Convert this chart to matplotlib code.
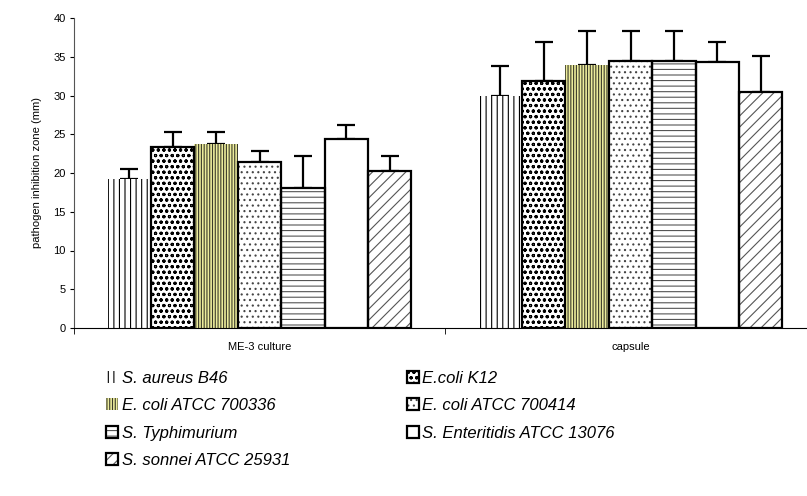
import numpy as np
import matplotlib.pyplot as plt
from matplotlib.legend_handler import HandlerTuple

plt.rcParams['font.family'] = ['Liberation Sans', 'DejaVu Sans']
plt.rcParams['hatch.linewidth'] = 0.8

groups = ['ME-3 culture', 'capsule']
strains = ['S. aureus B46', 'E.coli K12', 'E. coli ATCC 700336', 'E. coli ATCC 700414',
           'S. Typhimurium', 'S. Enteritidis ATCC 13076', 'S. sonnei ATCC 25931']

# inhibition zone means and SD (mm), one entry per strain
me3_mean = [19.2, 23.4, 23.7, 21.4, 18.1, 24.4, 20.3]
me3_sd = [1.3, 1.85, 1.55, 1.45, 4.1, 1.8, 1.9]
capsule_mean = [29.9, 31.9, 33.9, 34.4, 34.4, 34.3, 30.5]
capsule_sd = [3.95, 4.95, 4.4, 3.9, 3.9, 2.55, 4.6]

# face, hatch colour, hatch, outline width (outline is black)
styles = [
    ('white', 'black', '|||', 0.0),
    ('white', 'black', 'ooo', 1.6),
    ('#ecec9c', '#3a3a2a', '||||||', 0.0),
    ('white', '#444444', '...', 1.6),
    ('white', '#555555', '---', 1.6),
    ('white', 'white', '', 1.6),
    ('white', '#555555', '///', 1.6),
]

fig = plt.figure(figsize=(8.07, 4.96), dpi=100)
ax = fig.add_axes([74 / 807, 168 / 496, 742 / 807, 310 / 496])

x = np.arange(len(groups))
w = 0.117
handles = []
for i, name in enumerate(strains):
    face, hcol, hatch, lw = styles[i]
    vals = [me3_mean[i], capsule_mean[i]]
    errs = [me3_sd[i], capsule_sd[i]]
    pos = x + (i - 3) * w
    # filled, hatched body, then the black outline on top
    body = ax.bar(pos, vals, w, color=face, edgecolor=hcol, linewidth=0,
                  hatch=hatch, zorder=2)
    parts = [body]
    if lw > 0:
        edge = ax.bar(pos, vals, w, fill=False, edgecolor='black',
                      linewidth=lw, zorder=3)
        parts.append(edge)
    ax.errorbar(pos, vals, yerr=[[0, 0], errs], fmt='none', ecolor='black',
                elinewidth=1.6, capsize=6.5, capthick=1.6, zorder=1)
    handles.append(tuple(parts))

ax.set_xlim(-0.5, 1.5)
ax.set_ylim(0, 40)
ax.set_yticks(range(0, 41, 5))
ax.set_xticks(x, groups)
ax.set_xticks([-0.5, 0.5, 1.5], minor=True)
ax.tick_params(axis='x', which='major', length=0, pad=10, labelsize=8)
ax.tick_params(axis='x', which='minor', length=4, direction='out')
ax.tick_params(axis='y', length=3, pad=3, labelsize=8)
ax.spines['top'].set_visible(False)
ax.spines['right'].set_visible(False)
ax.spines['left'].set_color('#555555')
ax.set_ylabel('pathogen inhibition zone (mm)', fontsize=8, labelpad=8)

# legend filled row by row: two columns
order = [0, 2, 4, 6, 1, 3, 5]
fig.legend([handles[k] for k in order], [strains[k] for k in order],
           handler_map={tuple: HandlerTuple(ndivide=1, pad=0)},
           ncol=2, loc='upper left', bbox_to_anchor=(99 / 807, 1 - 364 / 496),
           frameon=False, prop={'style': 'italic', 'size': 12},
           handlelength=0.75, handleheight=0.75, handletextpad=0.2,
           labelspacing=0.75, columnspacing=7.0, borderaxespad=0)

fig.savefig('out.png', dpi=100)
